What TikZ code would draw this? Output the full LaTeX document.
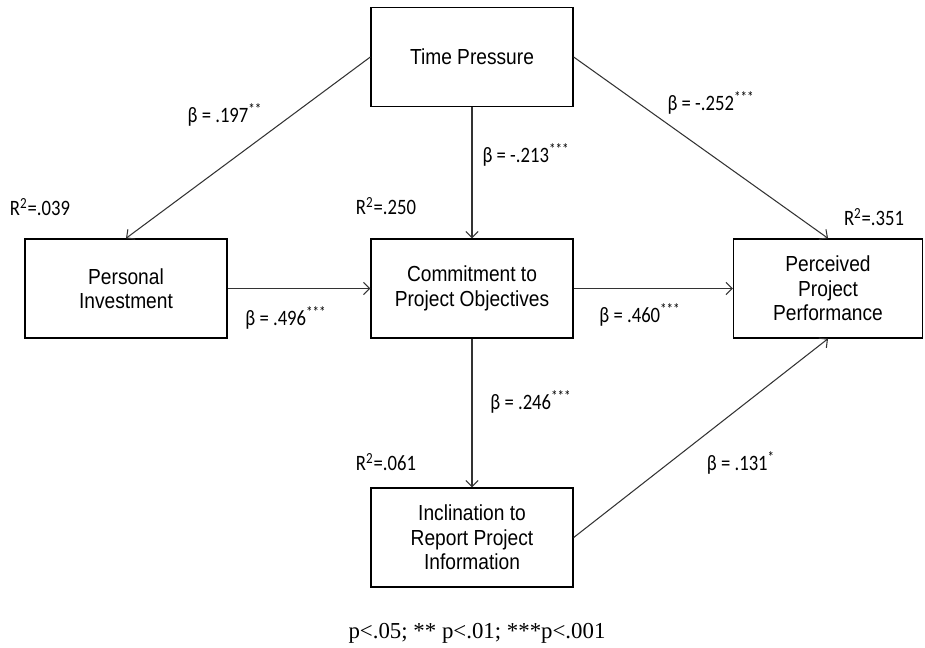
\documentclass[tikz,border=0pt]{standalone}
\usepackage{fontspec}
\setmainfont{Carlito}[FakeStretch=0.85]
\newfontfamily\boxfont{Liberation Sans}[FakeStretch=0.88]
\newfontfamily\notefont{Liberation Serif}
\usepackage{tikz}
\usetikzlibrary{arrows.meta}

\begin{document}
\begin{tikzpicture}[x=0.02cm, y=-0.02cm,
    every node/.style={font=\fontsize{12.5}{15}\selectfont},
    varbox/.style={draw, line width=0.8pt, minimum width=4.04cm, minimum height=1.98cm, align=center, inner sep=2pt,
        font=\boxfont\fontsize{12.4}{14}\selectfont},
    path/.style={draw=black!80, line width=0.6pt, -{Straight Barb[length=3.5pt, width=7pt]}}]
\useasboundingbox (0,0) rectangle (925,647);

% variables
\node[varbox] (tp) at (472,57) {Time Pressure};
\node[varbox] (inv) at (126,288.5) {Personal\\Investment};
\node[varbox] (com) at (472,288.5) {Commitment to\\Project Objectives};
\node[varbox, minimum width=3.78cm] (perf) at (828,288.5) {Perceived\\Project\\Performance};
\node[varbox] (inc) at (472,537.5) {Inclination to\\Report Project\\Information};

% paths
\draw[path] (tp.west) -- (inv.north);
\draw[path] (tp.south) -- (com.north);
\draw[path] (tp.east) -- (perf.north);
\draw[path] (inv.east) -- (com.west);
\draw[path] (com.east) -- (perf.west);
\draw[path] (com.south) -- (inc.north);
\draw[path] (inc.east) -- (perf.south);

% coefficients
\node (b197) at (225,115) {β = .197\textsuperscript{**}};
\node (b213) at (526,155) {β = -.213\textsuperscript{***}};
\node (b252) at (711,103) {β = -.252\textsuperscript{***}};
\node (b496) at (286,318) {β = .496\textsuperscript{***}};
\node (b460) at (640,315) {β = .460\textsuperscript{***}};
\node (b246) at (531,402) {β = .246\textsuperscript{***}};
\node (b131) at (741,463) {β = .131\textsuperscript{*}};

% explained variance
\node (r039) at (40,207) {R\textsuperscript{2}=.039};
\node (r250) at (386,206) {R\textsuperscript{2}=.250};
\node (r351) at (874,217) {R\textsuperscript{2}=.351};
\node (r061) at (386,462) {R\textsuperscript{2}=.061};

\node[font=\notefont\fontsize{13}{15}\selectfont] (note) at (477,633) {p<.05; ** p<.01; ***p<.001};
\end{tikzpicture}
\end{document}
